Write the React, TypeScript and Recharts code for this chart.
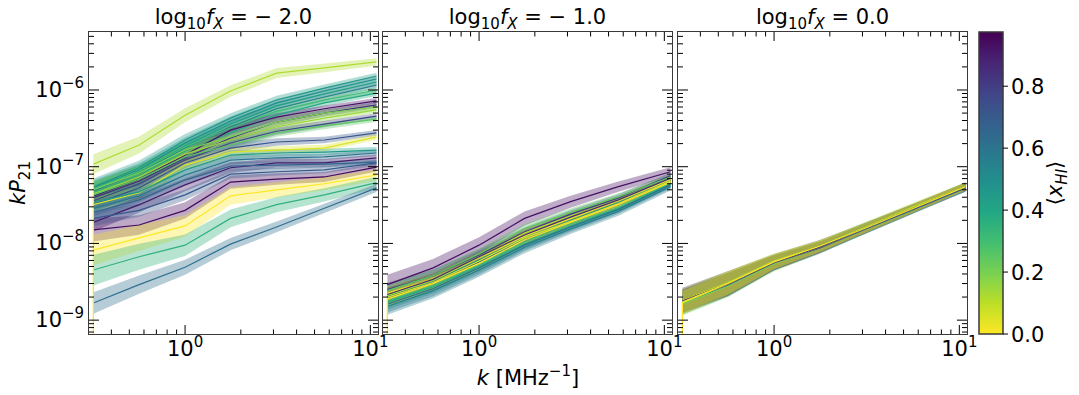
import React from "react";
import {
  ComposedChart,
  Area,
  Line,
  XAxis,
  YAxis,
  ReferenceArea,
} from "recharts";

// k bins in MHz^-1, shared by the three panels
const kBins = [0.32, 0.565, 1.0, 1.76, 3.12, 5.65, 10.8];

const xDomain = [0.303, 11.0];
const yDomain = [6.6e-10, 5.7e-6];
const xhiMax = 0.975;

const xMajor = [1, 10];
const xMinor = [0.4, 0.5, 0.6, 0.7, 0.8, 0.9, 2, 3, 4, 5, 6, 7, 8, 9];
const yMajor = [1e-9, 1e-8, 1e-7, 1e-6];
const yDecades = [1e-10, 1e-9, 1e-8, 1e-7, 1e-6];
const yMinorMult = [2, 3, 4, 5, 6, 7, 8, 9];
const cbarTicks = [0, 0.2, 0.4, 0.6, 0.8];
const panelTitles = ["\u2212 2.0", "\u2212 1.0", "0.0"];

// ---- log10 fX = -2.0 ----
const xhiA = [0.12, 0.45, 0.5, 0.42, 0.55, 0.3, 0.38, 0.93, 0.85, 0.2, 0.15, 0.78, 0.25, 0.72, 0.05, 0.45, 0.6, 0.9, 0.65, 0.95, 0.7, 0.0, 0.35, 0.62];
const pkA = [
  [1.08e-7, 1.92e-7, 4.7e-7, 9.7e-7, 1.66e-6, 1.94e-6, 2.32e-6],
  [5.46e-8, 9.7e-8, 2.23e-7, 4.3e-7, 7.4e-7, 1.06e-6, 1.52e-6],
  [5.3e-8, 9.1e-8, 2.04e-7, 3.94e-7, 6.8e-7, 9.7e-7, 1.39e-6],
  [5.0e-8, 8.6e-8, 1.86e-7, 3.6e-7, 6.2e-7, 8.9e-7, 1.27e-6],
  [4.85e-8, 8.3e-8, 1.75e-7, 3.3e-7, 5.7e-7, 8.1e-7, 1.16e-6],
  [5.15e-8, 8.8e-8, 1.81e-7, 3.2e-7, 5.3e-7, 7.4e-7, 1.0e-6],
  [4.57e-8, 7.8e-8, 1.6e-7, 2.76e-7, 4.7e-7, 6.8e-7, 9.1e-7],
  [4.17e-8, 6.9e-8, 1.42e-7, 3.0e-7, 4.43e-7, 5.7e-7, 7.2e-7],
  [3.93e-8, 6.5e-8, 1.3e-7, 2.37e-7, 3.82e-7, 5.0e-7, 6.4e-7],
  [5.0e-8, 8.3e-8, 1.65e-7, 2.45e-7, 3.82e-7, 5.0e-7, 6.0e-7],
  [4.43e-8, 7.35e-8, 1.46e-7, 2.23e-7, 3.3e-7, 4.3e-7, 5.5e-7],
  [3.6e-8, 6.0e-8, 1.22e-7, 2.04e-7, 2.9e-7, 3.6e-7, 4.56e-7],
  [4.3e-8, 6.9e-8, 1.34e-7, 1.92e-7, 2.76e-7, 3.4e-7, 4.18e-7],
  [3.2e-8, 5.3e-8, 1.12e-7, 1.75e-7, 2.1e-7, 2.23e-7, 2.76e-7],
  [3.2e-8, 4.57e-8, 1.05e-7, 1.55e-7, 1.65e-7, 1.75e-7, 2.45e-7],
  [3.4e-8, 4.7e-8, 9.1e-8, 1.42e-7, 1.51e-7, 1.55e-7, 1.65e-7],
  [2.87e-8, 4.17e-8, 7.8e-8, 1.22e-7, 1.3e-7, 1.34e-7, 1.51e-7],
  [1.88e-8, 3.2e-8, 5.8e-8, 9.7e-8, 1.12e-7, 1.12e-7, 1.3e-7],
  [2.54e-8, 3.7e-8, 6.7e-8, 1.02e-7, 1.05e-7, 1.08e-7, 1.15e-7],
  [1.5e-8, 1.74e-8, 2.7e-8, 6.3e-8, 6.9e-8, 7.35e-8, 9.9e-8],
  [2.12e-8, 2.7e-8, 4.3e-8, 8.0e-8, 8.6e-8, 9.1e-8, 1.12e-7],
  [8.2e-9, 1.18e-8, 1.69e-8, 4.17e-8, 5.0e-8, 6.0e-8, 7.8e-8],
  [4.5e-9, 6.7e-9, 9.5e-9, 2.12e-8, 3.2e-8, 4.3e-8, 6.2e-8],
  [1.67e-9, 2.9e-9, 4.9e-9, 9.8e-9, 1.64e-8, 2.87e-8, 5.3e-8],
];
// band half-width at the lowest k (dex), and how it narrows along k
const bandA = [0.13, 0.11, 0.1, 0.1, 0.11, 0.1, 0.1, 0.1, 0.1, 0.1, 0.1, 0.1, 0.1, 0.1, 0.1, 0.1, 0.1, 0.12, 0.1, 0.15, 0.1, 0.2, 0.2, 0.14];
const shapeA = [1, 0.85, 0.7, 0.58, 0.5, 0.43, 0.38];

// ---- log10 fX = -1.0 ----
const xhiB = [0.93, 0.8, 0.02, 0.25, 0.5, 0.7, 0.1, 0.42, 0.85, 0.05, 0.55, 0.32, 0.6, 0.0];
const pkB = [
  [2.9e-9, 4.8e-9, 9.5e-9, 2.12e-8, 3.5e-8, 5.5e-8, 8.6e-8],
  [2.5e-9, 3.8e-9, 7.1e-9, 1.41e-8, 2.41e-8, 3.93e-8, 7.6e-8],
  [2.23e-9, 3.4e-9, 6.5e-9, 1.25e-8, 2.12e-8, 3.6e-8, 6.9e-8],
  [2.43e-9, 3.8e-9, 7.3e-9, 1.55e-8, 2.54e-8, 4.05e-8, 7.35e-8],
  [2.04e-9, 3.2e-9, 6.1e-9, 1.18e-8, 2.0e-8, 3.4e-8, 6.5e-8],
  [1.94e-9, 3.1e-9, 5.75e-9, 1.11e-8, 1.88e-8, 3.2e-8, 6.3e-8],
  [2.1e-9, 3.3e-9, 6.5e-9, 1.37e-8, 2.27e-8, 3.7e-8, 7.1e-8],
  [1.72e-9, 2.73e-9, 5.0e-9, 9.8e-9, 1.69e-8, 2.87e-8, 6.0e-8],
  [2.16e-9, 3.4e-9, 6.7e-9, 1.29e-8, 2.2e-8, 3.7e-8, 7.1e-8],
  [1.98e-9, 3.1e-9, 5.9e-9, 1.18e-8, 1.94e-8, 3.3e-8, 6.5e-8],
  [1.52e-9, 2.43e-9, 4.5e-9, 8.9e-9, 1.55e-8, 2.62e-8, 5.5e-8],
  [1.78e-9, 2.8e-9, 5.2e-9, 1.05e-8, 1.79e-8, 2.92e-8, 6.2e-8],
  [1.62e-9, 2.58e-9, 4.8e-9, 9.5e-9, 1.64e-8, 2.78e-8, 5.8e-8],
  [1.88e-9, 3.0e-9, 5.5e-9, 1.11e-8, 1.88e-8, 3.2e-8, 6.3e-8],
];
const bandB = [0.13, 0.09, 0.09, 0.09, 0.09, 0.09, 0.09, 0.1, 0.09, 0.09, 0.11, 0.09, 0.11, 0.09];
const shapeB = [1, 0.9, 0.8, 0.7, 0.6, 0.52, 0.45];

// ---- log10 fX = 0.0 ----
const xhiC = [0.95, 0.6, 0.2, 0.45, 0.3, 0.7, 0.1, 0.05, 0.85, 0.0];
const pkC = [
  [1.83e-9, 3.02e-9, 5.75e-9, 9.2e-9, 1.59e-8, 2.87e-8, 5.5e-8],
  [1.72e-9, 2.97e-9, 5.6e-9, 8.95e-9, 1.59e-8, 2.87e-8, 5.3e-8],
  [1.62e-9, 2.81e-9, 5.4e-9, 8.7e-9, 1.55e-8, 2.78e-8, 5.5e-8],
  [1.67e-9, 2.9e-9, 5.6e-9, 8.95e-9, 1.55e-8, 2.78e-8, 5.3e-8],
  [1.78e-9, 3.02e-9, 5.75e-9, 9.2e-9, 1.64e-8, 2.87e-8, 5.6e-8],
  [1.72e-9, 2.9e-9, 5.6e-9, 8.7e-9, 1.55e-8, 2.78e-8, 5.3e-8],
  [1.83e-9, 3.1e-9, 5.9e-9, 9.2e-9, 1.64e-8, 3.0e-8, 5.6e-8],
  [1.67e-9, 2.97e-9, 5.6e-9, 8.95e-9, 1.59e-8, 2.87e-8, 5.5e-8],
  [1.78e-9, 2.97e-9, 5.6e-9, 8.95e-9, 1.59e-8, 2.87e-8, 5.5e-8],
  [1.72e-9, 3.02e-9, 5.75e-9, 9.2e-9, 1.59e-8, 2.87e-8, 5.5e-8],
];
const bandC = [0.16, 0.15, 0.15, 0.15, 0.15, 0.15, 0.15, 0.15, 0.15, 0.15];
const shapeC = [1, 1, 0.65, 0.5, 0.42, 0.37, 0.33];

// top of the vertical yellow edge drawn at the first k bin, per panel
const edgeTop = [1.0e-7, 1.98e-9, 1.72e-9];

const FIG_W = 1079;
const FIG_H = 395;
const PLOT_TOP = 32;
const PLOT_BOTTOM = 334;
const PANEL_LEFT = [89, 383, 678];
const PANEL_W = 289;
const CBAR_LEFT = 979;
const CBAR_RIGHT = 1003;
const AXIS_W = 40;
const AXIS_H = 30;
const FONT = "'DejaVu Sans', sans-serif";
const SPINE = "#3a3a3a";

const VIRIDIS = ["#440154", "#482475", "#414487", "#355f8d", "#2a788e", "#21918c", "#22a884", "#44bf70", "#7ad151", "#bddf26", "#fde725"];

function viridis(t: number) {
  const u = Math.min(1, Math.max(0, t)) * 10;
  const i = Math.min(9, Math.floor(u));
  const f = u - i;
  const a = parseInt(VIRIDIS[i].slice(1), 16);
  const b = parseInt(VIRIDIS[i + 1].slice(1), 16);
  const mix = (s: number) => Math.round(((a >> s) & 255) * (1 - f) + ((b >> s) & 255) * f);
  return `rgb(${mix(16)},${mix(8)},${mix(0)})`;
}
const xhiColor = (x: number) => viridis(1 - x / xhiMax);

const xTicks = [...xMinor, ...xMajor].sort((a, b) => a - b);
const yTicks = yDecades
  .flatMap((d) => [d, ...yMinorMult.map((m) => m * d)])
  .filter((v) => v >= yDomain[0] && v <= yDomain[1]);

const expText = (v: number) => {
  const e = Math.round(Math.log10(v));
  return e < 0 ? `\u2212${-e}` : `${e}`;
};

function XTick({ x, payload }: any) {
  const v = payload.value;
  const major = xMajor.includes(v);
  const len = major ? 9 : 4.5;
  return (
    <g>
      <line x1={x} x2={x} y1={PLOT_BOTTOM} y2={PLOT_BOTTOM - len} stroke="#000" strokeWidth={1} />
      <line x1={x} x2={x} y1={PLOT_TOP} y2={PLOT_TOP + len} stroke="#000" strokeWidth={1} />
      {major && (
        <text x={x} y={356} textAnchor="middle" fontSize={21} fontFamily={FONT} fill="#000">
          10<tspan dy={-9} fontSize={15}>{expText(v)}</tspan>
        </text>
      )}
    </g>
  );
}

function YTick({ y, payload, left, showLabel }: any) {
  const v = payload.value;
  const major = yMajor.includes(v);
  const len = major ? 10 : 5;
  const right = left + PANEL_W;
  return (
    <g>
      <line x1={left} x2={left + len} y1={y} y2={y} stroke="#000" strokeWidth={1} />
      <line x1={right} x2={right - len} y1={y} y2={y} stroke="#000" strokeWidth={1} />
      {major && showLabel && (
        <text x={left - 27} y={y + 7} textAnchor="end" fontSize={21} fontFamily={FONT} fill="#000">
          10
        </text>
      )}
      {major && showLabel && (
        <text x={left - 27} y={y - 2} textAnchor="start" fontSize={15} fontFamily={FONT} fill="#000">
          {expText(v)}
        </text>
      )}
    </g>
  );
}

function CbarTick({ y, payload }: any) {
  return (
    <g>
      <line x1={CBAR_RIGHT} x2={CBAR_RIGHT + 5} y1={y} y2={y} stroke="#000" strokeWidth={1} />
      <text x={CBAR_RIGHT + 8} y={y + 7.5} fontSize={21} fontFamily={FONT} fill="#000">
        {Number(payload.value).toFixed(1)}
      </text>
    </g>
  );
}

interface PanelProps {
  idx: number;
  xhi: number[];
  pk: number[][];
  band: number[];
  shape: number[];
}

function Panel({ idx, xhi, pk, band, shape }: PanelProps) {
  const left = PANEL_LEFT[idx];
  const rows = kBins.map((k, j) => {
    const r: Record<string, any> = { k };
    pk.forEach((p, i) => {
      const f = Math.pow(10, band[i] * shape[j]);
      r["m" + i] = p[j];
      r["b" + i] = [p[j] / f, p[j] * f];
    });
    return r;
  });
  // vertical edge at the first k bin, running down to the bottom of the axes
  const edgeRows = [
    { k: kBins[0], e: edgeTop[idx] },
    { k: kBins[0], e: yDomain[0] },
  ];

  return (
    <div style={{ position: "absolute", left: 0, top: 0 }}>
      <ComposedChart
        width={FIG_W}
        height={FIG_H}
        data={rows}
        margin={{
          top: PLOT_TOP,
          bottom: FIG_H - PLOT_BOTTOM - AXIS_H,
          left: left - AXIS_W,
          right: FIG_W - left - PANEL_W,
        }}
      >
        <XAxis
          dataKey="k"
          type="number"
          scale="log"
          domain={xDomain}
          allowDataOverflow
          ticks={xTicks}
          interval={0}
          height={AXIS_H}
          tickLine={false}
          axisLine={false}
          tick={(p: any) => <XTick {...p} />}
        />
        <YAxis
          type="number"
          scale="log"
          domain={yDomain}
          allowDataOverflow
          ticks={yTicks}
          interval={0}
          width={AXIS_W}
          tickLine={false}
          axisLine={false}
          tick={(p: any) => <YTick {...p} left={left} showLabel={idx === 0} />}
        />
        {pk.map((_, i) => (
          <Area
            key={"a" + i}
            dataKey={"b" + i}
            type="linear"
            stroke="none"
            fill={xhiColor(xhi[i])}
            fillOpacity={0.35}
            dot={false}
            activeDot={false}
            isAnimationActive={false}
          />
        ))}
        {pk.map((_, i) => (
          <Line
            key={"l" + i}
            dataKey={"m" + i}
            type="linear"
            stroke={xhiColor(xhi[i])}
            strokeWidth={1.2}
            dot={false}
            activeDot={false}
            isAnimationActive={false}
          />
        ))}
        <Line
          data={edgeRows}
          dataKey="e"
          type="linear"
          stroke={xhiColor(0)}
          strokeWidth={1.3}
          dot={false}
          activeDot={false}
          isAnimationActive={false}
        />
      </ComposedChart>
    </div>
  );
}

const cbarRows = [
  { c: 0, v: 0 },
  { c: 1, v: xhiMax },
];

function Colorbar() {
  return (
    <div style={{ position: "absolute", left: 0, top: 0 }}>
      <ComposedChart
        width={FIG_W}
        height={FIG_H}
        data={cbarRows}
        margin={{ top: PLOT_TOP, bottom: FIG_H - PLOT_BOTTOM, left: CBAR_LEFT, right: FIG_W - CBAR_RIGHT - AXIS_W }}
      >
        <XAxis dataKey="c" type="number" domain={[0, 1]} hide />
        <YAxis
          type="number"
          orientation="right"
          domain={[0, xhiMax]}
          ticks={cbarTicks}
          interval={0}
          width={AXIS_W}
          tickLine={false}
          axisLine={false}
          tick={(p: any) => <CbarTick {...p} />}
        />
        <ReferenceArea
          x1={0}
          x2={1}
          y1={0}
          y2={xhiMax}
          fill="url(#viridisGrad)"
          fillOpacity={1}
          stroke={SPINE}
          strokeWidth={1.5}
        />
        <Line dataKey="v" stroke="none" dot={false} activeDot={false} isAnimationActive={false} />
      </ComposedChart>
    </div>
  );
}

export default function App() {
  const panels = [
    { xhi: xhiA, pk: pkA, band: bandA, shape: shapeA },
    { xhi: xhiB, pk: pkB, band: bandB, shape: shapeB },
    { xhi: xhiC, pk: pkC, band: bandC, shape: shapeC },
  ];
  return (
    <div style={{ position: "absolute", left: 0, top: 0, width: FIG_W, height: FIG_H, background: "#fff", fontFamily: FONT }}>
      <svg width={0} height={0} style={{ position: "absolute" }}>
        <defs>
          <linearGradient id="viridisGrad" x1="0" y1="0" x2="0" y2="1">
            {VIRIDIS.map((c, i) => (
              <stop key={i} offset={`${i * 10}%`} stopColor={c} />
            ))}
          </linearGradient>
        </defs>
      </svg>
      {panels.map((p, i) => (
        <Panel key={i} idx={i} {...p} />
      ))}
      <Colorbar />
      {PANEL_LEFT.map((l) => (
        <div
          key={l}
          style={{
            position: "absolute",
            left: l - 0.9,
            top: PLOT_TOP - 0.9,
            width: PANEL_W + 1.8,
            height: PLOT_BOTTOM - PLOT_TOP + 1.8,
            border: `1.8px solid ${SPINE}`,
            boxSizing: "border-box",
            pointerEvents: "none",
          }}
        />
      ))}
      <svg width={FIG_W} height={FIG_H} style={{ position: "absolute", left: 0, top: 0, pointerEvents: "none" }}>
        <g fontFamily={FONT} fill="#000">
          {PANEL_LEFT.map((l, i) => (
            <text key={i} x={l + PANEL_W / 2} y={24} textAnchor="middle" fontSize={21}>
              log<tspan fontSize={15} dy={5}>10</tspan>
              <tspan dy={-5} fontStyle="italic">f</tspan>
              <tspan fontSize={15} dy={5} fontStyle="italic">X</tspan>
              <tspan dy={-5}>{" = " + panelTitles[i]}</tspan>
            </text>
          ))}
          <text transform={`translate(25,${(PLOT_TOP + PLOT_BOTTOM) / 2}) rotate(-90)`} textAnchor="middle" fontSize={21}>
            <tspan fontStyle="italic">kP</tspan>
            <tspan fontSize={15} dy={5}>21</tspan>
          </text>
          <text x={(PANEL_LEFT[0] + PANEL_LEFT[2] + PANEL_W) / 2} y={385} textAnchor="middle" fontSize={21}>
            <tspan fontStyle="italic">k</tspan> [MHz<tspan fontSize={15} dy={-9}>{"\u22121"}</tspan>
            <tspan dy={9}>]</tspan>
          </text>
          <text transform={`translate(1062,${(PLOT_TOP + PLOT_BOTTOM) / 2}) rotate(-90)`} textAnchor="middle" fontSize={21}>
            {"\u27e8"}
            <tspan fontStyle="italic">x</tspan>
            <tspan fontSize={15} dy={5} fontStyle="italic">HI</tspan>
            <tspan dy={-5}>{"\u27e9"}</tspan>
          </text>
        </g>
      </svg>
    </div>
  );
}
